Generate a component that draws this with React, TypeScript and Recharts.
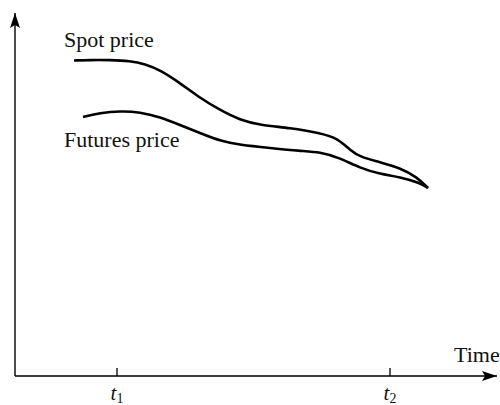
import React from "react";
import { LineChart, Line, XAxis, YAxis, ReferenceDot } from "recharts";

// Time axis runs 0..482, price axis 0..363 (arbitrary units)
const spotTime = [59, 75, 95, 115, 130, 145, 165, 185, 205, 225, 245, 275, 305, 322, 335, 345, 365, 385, 402, 413];
const spotPrice = [315.5, 316, 316, 315, 312, 306, 293, 278, 266, 256, 251, 248, 243, 238, 226, 219, 214, 208, 199, 188];
const futuresTime = [68, 85, 105, 125, 145, 165, 185, 205, 225, 255, 285, 305, 325, 345, 365, 385, 405, 413];
const futuresPrice = [259, 263, 265, 264, 259, 251, 243, 235, 231, 228, 225, 224, 218, 208, 202, 199, 193, 188];

const tickTimes = [102, 375];
const tickLabels = ["1", "2"];

const X_MAX = 482;
const Y_MAX = 363;

const spotData = spotTime.map((t, i) => ({ t, p: spotPrice[i] }));
const futuresData = futuresTime.map((t, i) => ({ t, p: futuresPrice[i] }));

const FONT = "'Liberation Serif', 'Times New Roman', serif";

const TimeTick = (props: any) => {
  const { x, y, index } = props;
  return (
    <g>
      <line x1={x} y1={y - 8} x2={x} y2={y} stroke="#000" strokeWidth={1.3} />
      <text x={x} y={y + 24} textAnchor="middle" fontFamily={FONT} fontSize={21} fill="#111">
        <tspan fontStyle="italic">t</tspan>
        <tspan fontSize={14} dy={3}>{tickLabels[index]}</tspan>
      </text>
    </g>
  );
};

const textShape = (label: string) => (props: any) => (
  <text x={props.cx} y={props.cy} fontFamily={FONT} fontSize={22} fill="#111" textAnchor="start">
    {label}
  </text>
);

const upArrow = (props: any) => {
  const { cx, cy } = props;
  return <path d={`M${cx},${cy} L${cx + 5},${cy + 15} L${cx},${cy + 12} L${cx - 5},${cy + 15} Z`} fill="#000" />;
};

const rightArrow = (props: any) => {
  const { cx, cy } = props;
  return <path d={`M${cx},${cy} L${cx - 15},${cy - 5} L${cx - 12},${cy} L${cx - 15},${cy + 5} Z`} fill="#000" />;
};

export default function App() {
  return (
    <div style={{ position: "absolute", left: 0, top: 0, width: 500, height: 405, background: "#fff" }}>
      <LineChart width={500} height={405} margin={{ top: 13, right: 3, bottom: 0, left: 0 }}>
        <XAxis
          type="number"
          dataKey="t"
          domain={[0, X_MAX]}
          ticks={tickTimes}
          tick={<TimeTick />}
          tickLine={false}
          tickSize={0}
          tickMargin={0}
          height={29}
          axisLine={{ stroke: "#000", strokeWidth: 1.4 }}
          interval={0}
          allowDataOverflow
        />
        <YAxis
          type="number"
          dataKey="p"
          domain={[0, Y_MAX]}
          width={15}
          tick={false}
          tickLine={false}
          axisLine={{ stroke: "#000", strokeWidth: 1.4 }}
          allowDataOverflow
        />
        <Line
          data={spotData}
          dataKey="p"
          type="basis"
          stroke="#000"
          strokeWidth={2.6}
          dot={false}
          isAnimationActive={false}
        />
        <Line
          data={futuresData}
          dataKey="p"
          type="basis"
          stroke="#000"
          strokeWidth={2.6}
          dot={false}
          isAnimationActive={false}
        />
        <ReferenceDot x={0} y={Y_MAX} r={0} shape={upArrow} ifOverflow="visible" />
        <ReferenceDot x={X_MAX} y={0} r={0} shape={rightArrow} ifOverflow="visible" />
        <ReferenceDot x={49} y={329} r={0} shape={textShape("Spot price")} ifOverflow="visible" />
        <ReferenceDot x={49} y={229} r={0} shape={textShape("Futures price")} ifOverflow="visible" />
        <ReferenceDot x={439} y={14} r={0} shape={textShape("Time")} ifOverflow="visible" />
      </LineChart>
    </div>
  );
}
